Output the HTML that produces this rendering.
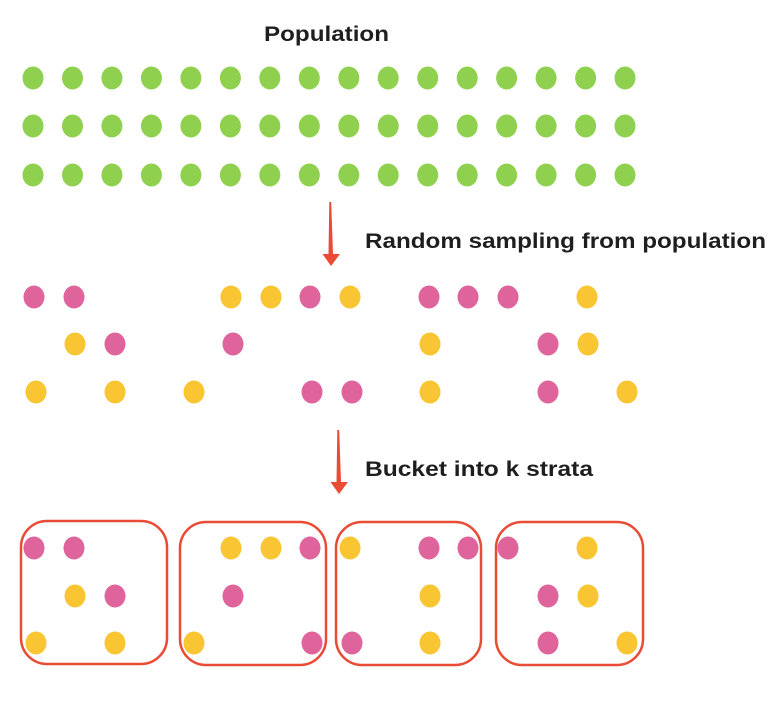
<!DOCTYPE html>
<html><head><meta charset="utf-8"><style>html,body{margin:0;padding:0;background:#fff}svg{display:block}</style></head>
<body>
<svg width="782" height="702" viewBox="0 0 782 702" xmlns="http://www.w3.org/2000/svg">
<defs>
<ellipse id="g" rx="10.5" ry="11.5" fill="#8fd14f"/>
<ellipse id="p" rx="10.5" ry="11.5" fill="#e0649c"/>
<ellipse id="y" rx="10.5" ry="11.5" fill="#fac532"/>
<g id="grow">
<use href="#g" x="33"/><use href="#g" x="72.5"/><use href="#g" x="111.9"/><use href="#g" x="151.4"/>
<use href="#g" x="190.9"/><use href="#g" x="230.4"/><use href="#g" x="269.8"/><use href="#g" x="309.3"/>
<use href="#g" x="348.8"/><use href="#g" x="388.2"/><use href="#g" x="427.7"/><use href="#g" x="467.2"/>
<use href="#g" x="506.6"/><use href="#g" x="546.1"/><use href="#g" x="585.6"/><use href="#g" x="625"/>
</g>
</defs>
<g font-family="Liberation Sans, sans-serif" font-weight="bold" font-size="21" fill="#1e1e1e">
<text x="264" y="41" textLength="125" lengthAdjust="spacingAndGlyphs">Population</text>
<text x="365" y="248" textLength="401" lengthAdjust="spacingAndGlyphs">Random sampling from population</text>
<text x="365" y="476" textLength="228" lengthAdjust="spacingAndGlyphs">Bucket into k strata</text>
</g>
<use href="#grow" y="78"/>
<use href="#grow" y="126"/>
<use href="#grow" y="175"/>
<!-- arrows -->
<path d="M329.3 202 L331.2 202 L333 254 L340 254 L331 266 L322.5 254 L328.5 254 Z" fill="#ea4b35"/>
<path d="M337.3 430 L339.2 430 L341 482 L348 482 L339 494 L330.5 482 L336.5 482 Z" fill="#ea4b35"/>
<!-- sampled -->
<use href="#p" x="34" y="297"/><use href="#p" x="74" y="297"/>
<use href="#y" x="231" y="297"/><use href="#y" x="271" y="297"/><use href="#p" x="310" y="297"/><use href="#y" x="350" y="297"/>
<use href="#p" x="429" y="297"/><use href="#p" x="468" y="297"/><use href="#p" x="508" y="297"/><use href="#y" x="587" y="297"/>
<use href="#y" x="75" y="344"/><use href="#p" x="115" y="344"/><use href="#p" x="233" y="344"/>
<use href="#y" x="430" y="344"/><use href="#p" x="548" y="344"/><use href="#y" x="588" y="344"/>
<use href="#y" x="36" y="392"/><use href="#y" x="115" y="392"/><use href="#y" x="194" y="392"/><use href="#p" x="312" y="392"/><use href="#p" x="352" y="392"/>
<use href="#y" x="430" y="392"/><use href="#p" x="548" y="392"/><use href="#y" x="627" y="392"/>
<!-- boxes -->
<g fill="none" stroke="#ea4b35" stroke-width="2.5">
<rect x="21" y="521" width="146" height="143" rx="26"/>
<rect x="180" y="522" width="146" height="143" rx="26"/>
<rect x="336" y="522" width="145" height="143" rx="26"/>
<rect x="496" y="522" width="147" height="143" rx="26"/>
</g>
<use href="#p" x="34" y="548"/><use href="#p" x="74" y="548"/>
<use href="#y" x="75" y="596"/><use href="#p" x="115" y="596"/>
<use href="#y" x="36" y="643"/><use href="#y" x="115" y="643"/>
<use href="#y" x="231" y="548"/><use href="#y" x="271" y="548"/><use href="#p" x="310" y="548"/>
<use href="#p" x="233" y="596"/>
<use href="#y" x="194" y="643"/><use href="#p" x="312" y="643"/>
<use href="#y" x="350" y="548"/><use href="#p" x="429" y="548"/><use href="#p" x="468" y="548"/>
<use href="#y" x="430" y="596"/>
<use href="#p" x="352" y="643"/><use href="#y" x="430" y="643"/>
<use href="#p" x="508" y="548"/><use href="#y" x="587" y="548"/>
<use href="#p" x="548" y="596"/><use href="#y" x="588" y="596"/>
<use href="#p" x="548" y="643"/><use href="#y" x="627" y="643"/>
</svg>
</body></html>
